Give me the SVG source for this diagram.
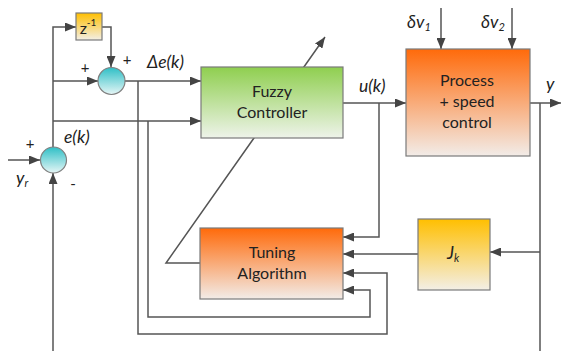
<svg xmlns="http://www.w3.org/2000/svg" width="562" height="351" viewBox="0 0 562 351">
  <defs>
    <linearGradient id="gGreen" x1="0" y1="0" x2="0" y2="1">
      <stop offset="0" stop-color="#8fcf4f"/>
      <stop offset="1" stop-color="#eef3ea"/>
    </linearGradient>
    <linearGradient id="gOrange" x1="0" y1="0" x2="0" y2="1">
      <stop offset="0" stop-color="#ff6a0a"/>
      <stop offset="1" stop-color="#f2ece8"/>
    </linearGradient>
    <linearGradient id="gYellow" x1="0" y1="0" x2="0" y2="1">
      <stop offset="0" stop-color="#ffbf00"/>
      <stop offset="1" stop-color="#f3efe6"/>
    </linearGradient>
    <linearGradient id="gTeal" x1="0" y1="0" x2="0" y2="1">
      <stop offset="0" stop-color="#2fbfc6"/>
      <stop offset="1" stop-color="#e6f6f6"/>
    </linearGradient>
    <marker id="arr" viewBox="0 0 11 9" refX="11" refY="4.5" markerWidth="11" markerHeight="9" markerUnits="userSpaceOnUse" orient="auto">
      <path d="M0,0 L11,4.5 L0,9 z" fill="#444"/>
    </marker>
  </defs>
  <style>
    .wire { fill: none; stroke: #555; stroke-width: 1.5; }
    .arrow { marker-end: url(#arr); }
    .box { stroke: #7a7a7a; stroke-width: 1.2; }
    .sum { fill: url(#gTeal); stroke: #808080; stroke-width: 1.2; }
    .t { font-family: Lato, "Liberation Sans", sans-serif; font-size: 16px; fill: #222; text-anchor: middle; }
    .lbl { font-family: Lato, "Liberation Sans", sans-serif; font-size: 17.5px; font-style: italic; fill: #222; }
    .sign { font-family: Lato, "Liberation Sans", sans-serif; font-size: 15px; fill: #222; text-anchor: middle; }
  </style>

  <!-- connectors -->
  <g id="connectors">
    <path class="wire arrow" d="M8,160 H40"/>
    <path class="wire arrow" d="M53,147 V27 H76"/>
    <path class="wire arrow" d="M53,81 H98"/>
    <path class="wire arrow" d="M53,121 H201"/>
    <path class="wire arrow" d="M102,27 H111 V67"/>
    <path class="wire arrow" d="M125,81 H201"/>
    <path class="wire arrow" d="M138,81 V334 H387 V273 H343"/>
    <path class="wire arrow" d="M148,121 V317 H370 V290 H343"/>
    <path class="wire arrow" d="M343,103 H406"/>
    <path class="wire arrow" d="M379,103 V237 H343"/>
    <path class="wire arrow" d="M530,103 H561"/>
    <path class="wire" d="M540,103 V351"/>
    <path class="wire arrow" d="M540,252 H490"/>
    <path class="wire arrow" d="M53,351 V173"/>
    <path class="wire arrow" d="M418,254 H343"/>
    <path class="wire arrow" d="M200,263 H166 L325,37"/>
    <path class="wire arrow" d="M441,8 V49"/>
    <path class="wire arrow" d="M512,8 V49"/>
  </g>

  <!-- summing junctions -->
  <g id="sum-error">
    <circle class="sum" cx="53.5" cy="160" r="13"/>
    <text class="sign" x="30" y="149">+</text>
    <text class="sign" x="73" y="189">-</text>
  </g>
  <g id="sum-delta">
    <circle class="sum" cx="111.5" cy="81" r="13.5"/>
    <text class="sign" x="85" y="73">+</text>
    <text class="sign" x="127" y="65">+</text>
  </g>

  <!-- blocks -->
  <g id="delay">
    <rect class="box" x="76" y="13" width="26" height="27" fill="url(#gYellow)"/>
    <text class="t" x="88" y="34" font-size="16">z<tspan font-size="10" dy="-8">-1</tspan></text>
  </g>
  <g id="fuzzy-controller">
    <rect class="box" x="201" y="67" width="142" height="71" fill="url(#gGreen)"/>
    <text class="t" x="272" y="97">Fuzzy</text>
    <text class="t" x="272" y="118">Controller</text>
  </g>
  <g id="process">
    <rect class="box" x="406" y="49" width="124" height="107" fill="url(#gOrange)"/>
    <text class="t" x="467" y="86">Process</text>
    <text class="t" x="467" y="107">+ speed</text>
    <text class="t" x="467" y="128">control</text>
  </g>
  <g id="tuning-algorithm">
    <rect class="box" x="200" y="228" width="143" height="71" fill="url(#gOrange)"/>
    <text class="t" x="272" y="258">Tuning</text>
    <text class="t" x="272" y="279">Algorithm</text>
  </g>
  <g id="cost">
    <rect class="box" x="418" y="219" width="72" height="71" fill="url(#gYellow)"/>
    <text class="lbl" x="447" y="259">J<tspan font-size="11" dy="3">k</tspan></text>
  </g>

  <!-- signal labels -->
  <g id="labels">
    <text class="lbl" x="64" y="143">e(k)</text>
    <text class="lbl" x="147" y="68">Δe(k)</text>
    <text class="lbl" x="359" y="92">u(k)</text>
    <text class="lbl" x="546" y="90">y</text>
    <text class="lbl" x="16" y="184">y<tspan font-size="11" dy="3">r</tspan></text>
    <text class="lbl" x="407" y="28" font-style="normal">δ<tspan font-style="italic">v</tspan><tspan font-size="11" dy="3" font-style="italic">1</tspan></text>
    <text class="lbl" x="481" y="28" font-style="normal">δ<tspan font-style="italic">v</tspan><tspan font-size="11" dy="3" font-style="italic">2</tspan></text>
  </g>
</svg>
